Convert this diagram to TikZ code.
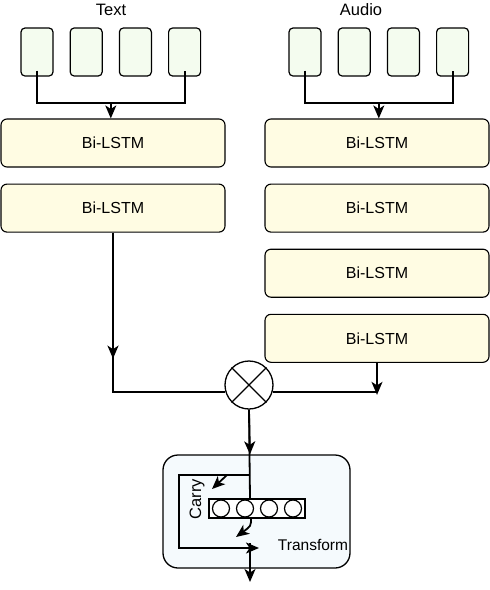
\documentclass[tikz,border=0pt]{standalone}
\usepackage{fontspec}
\setmainfont{Liberation Sans}
\usepackage{xcolor}
\usetikzlibrary{
    arrows.meta,
    positioning,
    calc,
}

\definecolor{tokfill}{HTML}{F4FCEF}
\definecolor{lstmfill}{HTML}{FFFCE3}
\definecolor{hwyfill}{HTML}{F5FAFD}

\begin{document}
\begin{tikzpicture}[
        x=1pt, y=-1pt,
        >={Stealth[length=13pt, width=11pt, inset=3.5pt]},
        token/.style={
            rectangle, rounded corners=4pt, draw=black, line width=1.2pt,
            fill=tokfill, minimum width=32pt, minimum height=48pt
        },
        lstm/.style={
            rectangle, rounded corners=6pt, draw=black, line width=1.1pt,
            fill=lstmfill, minimum width=224pt, minimum height=48pt,
            font=\fontsize{16}{18}\selectfont
        },
        cell/.style={circle, draw=black, line width=1.2pt, fill=white,
            minimum size=17pt, inner sep=0pt},
        wire/.style={line width=1.8pt},
        arrow/.style={->, line width=1.8pt},
        label/.style={font=\fontsize{16.5}{18}\selectfont},
    ]
    \useasboundingbox (0,0) rectangle (490,590);

    % ── Text tokens ──
    \node[token] (tT1) at (37,52) {};
    \node[token, right=16pt of tT1] (tT2) {};
    \node[token, right=16pt of tT2] (tT3) {};
    \node[token, right=16pt of tT3] (tT4) {};
    \node[label] (textlbl) at (111,10) {Text};

    % ── Audio tokens ──
    \node[token] (tA1) at (305,52) {};
    \node[token, right=16pt of tA1] (tA2) {};
    \node[token, right=16pt of tA2] (tA3) {};
    \node[token, right=16pt of tA3] (tA4) {};
    \node[label] (audiolbl) at (361,10) {Audio};

    % ── Bi-LSTM stacks ──
    \node[lstm] (lstmT1) at (113,143) {Bi-LSTM};
    \node[lstm, below=16pt of lstmT1] (lstmT2) {Bi-LSTM};

    \node[lstm] (lstmA1) at (377,143) {Bi-LSTM};
    \node[lstm, below=16pt of lstmA1] (lstmA2) {Bi-LSTM};
    \node[lstm, below=16pt of lstmA2] (lstmA3) {Bi-LSTM};
    \node[lstm, below=16pt of lstmA3] (lstmA4) {Bi-LSTM};

    % ── Fusion ──
    \node[circle, draw=black, line width=1.3pt, minimum size=48pt,
        inner sep=0pt] (cross) at (249,385) {};
    \draw[line width=1.1pt] (cross.45) -- (cross.225);
    \draw[line width=1.1pt] (cross.135) -- (cross.-45);

    % ── Highway block ──
    \node[rectangle, rounded corners=15pt, draw=black, line width=1.3pt,
        fill=hwyfill, minimum width=187pt, minimum height=113pt]
        (hwy) at (256.5,511.5) {};
    \node[rectangle, draw=black, line width=1.2pt, fill=white,
        minimum width=96pt, minimum height=19pt, inner sep=0pt]
        (cells) at (257,508.5) {};
    \foreach \i/\cx in {1/221, 2/245, 3/269, 4/293}
        \node[cell] (c\i) at (\cx,508.5) {};
    \node[label, rotate=90] (carrylbl) at (197,499) {Carry};
    \node[label, font=\fontsize{15.5}{17}\selectfont] (tflbl) at (313,545) {Transform};

    \coordinate (tjoin) at ($(tT1.south)!0.5!(tT4.south)+(0,26)$);
    \coordinate (ajoin) at ($(tA1.south)!0.5!(tA4.south)+(0,26)$);
    \coordinate (split) at (250,475);
    \coordinate (cbranch) at (227,475);
    \coordinate (cend) at (212,489);
    \coordinate (tstart) at (251,518);
    \coordinate (tend) at (236,537);
    \coordinate (tfend) at (259,548);
    \coordinate (outtop) at (250,543);
    \coordinate (out) at (250,582);

    % ── Arrows ──
    \draw[wire] ([yshift=6pt]tT1.south) |- (tjoin) -| ([yshift=6pt]tT4.south);
    \draw[arrow] (tjoin) -- (tjoin |- lstmT1.north);
    \draw[wire] ([yshift=6pt]tA1.south) |- (ajoin) -| ([yshift=6pt]tA4.south);
    \draw[arrow] (ajoin) -- (ajoin |- lstmA1.north);

    \draw[wire] (lstmT2.south) |- (cross.197);
    \draw[arrow] (lstmT2.south) -- ++(0,126);
    \draw[arrow] (lstmA4.south) -- ++(0,32);
    \draw[wire] (cross.-17) -- (cross.-17 -| lstmA4.south);

    \draw[wire] (cross.south) -- (split |- cells.north);
    \draw[arrow] (cross.south) -- (split |- hwy.north);
    \draw[arrow] (split) -- ++(-71,0) |- (tfend);
    \draw[arrow] (cbranch) -- (cend);
    \draw[arrow] (tstart) .. controls (251,526) .. (tend);
    \draw[arrow] (outtop) -- (out);

    \end{tikzpicture}
\end{document}
